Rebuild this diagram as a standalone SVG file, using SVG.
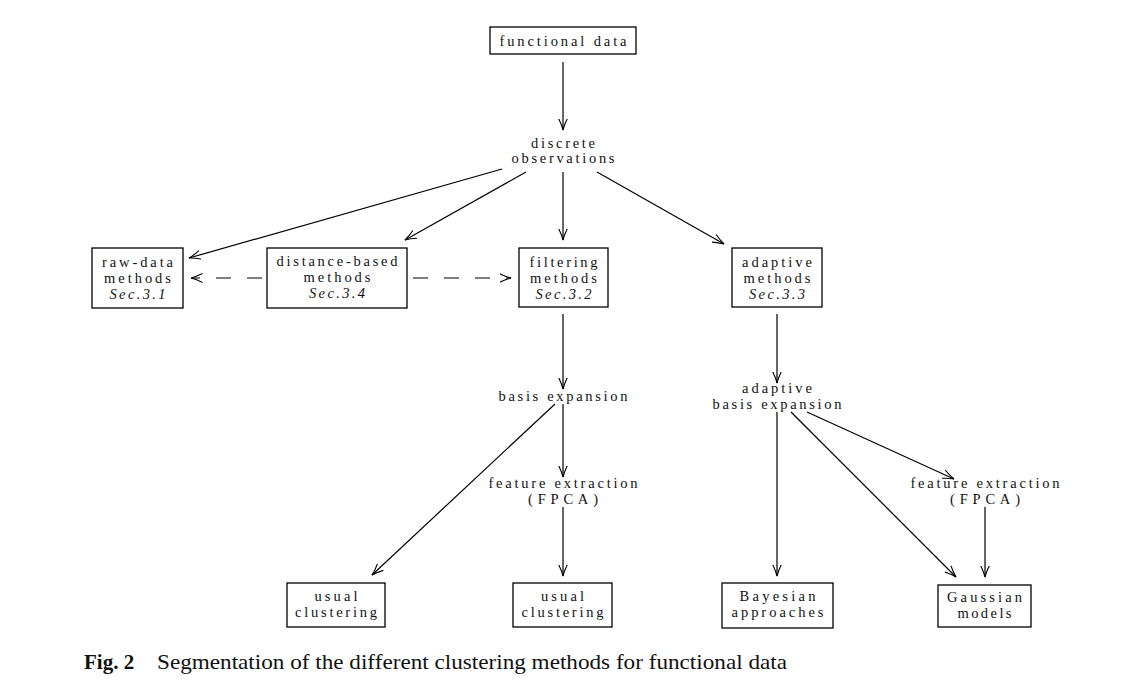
<svg xmlns="http://www.w3.org/2000/svg" width="1146" height="687" viewBox="0 0 1146 687">
<style>
.box{fill:#fff;stroke:#000;stroke-width:1.3}
.t{font-family:"Liberation Serif","Times New Roman",serif;font-size:14.5px;text-anchor:middle;fill:#111}
.i{font-style:italic}
.e{fill:none;stroke:#000;stroke-width:1.2}
.d{stroke-dasharray:15,16}
.cap{font-family:"Liberation Serif","Times New Roman",serif;font-size:21px;fill:#111}
</style>
<defs>
<marker id="ah" viewBox="0 0 12 10" refX="11.5" refY="5" markerWidth="12" markerHeight="10" orient="auto" markerUnits="userSpaceOnUse">
<path d="M0,0.6 Q6,3.6 11.5,5 Q6,6.4 0,9.4" fill="none" stroke="#000" stroke-width="1.1"/>
</marker>
</defs>
<rect width="1146" height="687" fill="#fff"/>

<g id="connectors">
<line class="e" x1="563" y1="62" x2="563" y2="130" marker-end="url(#ah)"/>
<line class="e" x1="502" y1="169" x2="189" y2="258" marker-end="url(#ah)"/>
<line class="e" x1="526" y1="172" x2="405" y2="240" marker-end="url(#ah)"/>
<line class="e" x1="563" y1="172" x2="563" y2="240" marker-end="url(#ah)"/>
<line class="e" x1="597" y1="172" x2="724" y2="244" marker-end="url(#ah)"/>
<line class="e d" x1="262" y1="278" x2="191" y2="278" marker-end="url(#ah)"/>
<line class="e d" x1="413" y1="278" x2="511" y2="278" marker-end="url(#ah)"/>
<line class="e" x1="563" y1="314" x2="563" y2="389" marker-end="url(#ah)"/>
<line class="e" x1="563" y1="404" x2="563" y2="477" marker-end="url(#ah)"/>
<line class="e" x1="563" y1="507" x2="563" y2="576" marker-end="url(#ah)"/>
<line class="e" x1="555" y1="404" x2="372" y2="575" marker-end="url(#ah)"/>
<line class="e" x1="777" y1="314" x2="777" y2="383" marker-end="url(#ah)"/>
<line class="e" x1="777" y1="412" x2="777" y2="576" marker-end="url(#ah)"/>
<line class="e" x1="791" y1="412" x2="956" y2="577" marker-end="url(#ah)"/>
<line class="e" x1="807" y1="412" x2="954" y2="479" marker-end="url(#ah)"/>
<line class="e" x1="985" y1="507" x2="985" y2="577" marker-end="url(#ah)"/>
</g>

<g id="functional-data">
<rect class="box" x="490" y="27" width="146" height="27"/>
<text class="t" x="563" y="46" textLength="127" lengthAdjust="spacing">functional data</text>
</g>

<g id="discrete-observations">
<text class="t" x="563" y="148" textLength="64" lengthAdjust="spacing">discrete</text>
<text class="t" x="563" y="163" textLength="103" lengthAdjust="spacing">observations</text>
</g>

<g id="raw-data">
<rect class="box" x="92" y="248" width="91" height="60"/>
<text class="t" x="137.5" y="267" textLength="71" lengthAdjust="spacing">raw-data</text>
<text class="t" x="137.5" y="283" textLength="67" lengthAdjust="spacing">methods</text>
<text class="t i" x="137.5" y="299" textLength="56" lengthAdjust="spacing">Sec.3.1</text>
</g>

<g id="distance-based">
<rect class="box" x="267" y="248" width="140" height="60"/>
<text class="t" x="337" y="266" textLength="121" lengthAdjust="spacing">distance-based</text>
<text class="t" x="337" y="282" textLength="67" lengthAdjust="spacing">methods</text>
<text class="t i" x="337" y="298" textLength="56" lengthAdjust="spacing">Sec.3.4</text>
</g>

<g id="filtering">
<rect class="box" x="519" y="248" width="89" height="59"/>
<text class="t" x="563.5" y="267" textLength="68" lengthAdjust="spacing">filtering</text>
<text class="t" x="563.5" y="283" textLength="67" lengthAdjust="spacing">methods</text>
<text class="t i" x="563.5" y="299" textLength="56" lengthAdjust="spacing">Sec.3.2</text>
</g>

<g id="adaptive">
<rect class="box" x="732" y="248" width="90" height="59"/>
<text class="t" x="777" y="267" textLength="70" lengthAdjust="spacing">adaptive</text>
<text class="t" x="777" y="283" textLength="67" lengthAdjust="spacing">methods</text>
<text class="t i" x="777" y="299" textLength="56" lengthAdjust="spacing">Sec.3.3</text>
</g>

<g id="basis-expansion">
<text class="t" x="563" y="401" textLength="129" lengthAdjust="spacing">basis expansion</text>
</g>

<g id="feature-extraction-1">
<text class="t" x="563" y="488" textLength="149" lengthAdjust="spacing">feature extraction</text>
<text class="t" x="563" y="504" textLength="70" lengthAdjust="spacing">(FPCA)</text>
</g>

<g id="adaptive-basis-expansion">
<text class="t" x="777" y="393" textLength="70" lengthAdjust="spacing">adaptive</text>
<text class="t" x="777" y="409" textLength="129" lengthAdjust="spacing">basis expansion</text>
</g>

<g id="feature-extraction-2">
<text class="t" x="985" y="488" textLength="149" lengthAdjust="spacing">feature extraction</text>
<text class="t" x="985" y="504" textLength="70" lengthAdjust="spacing">(FPCA)</text>
</g>

<g id="usual-clustering-1">
<rect class="box" x="287" y="583" width="98" height="44"/>
<text class="t" x="336" y="601" textLength="43" lengthAdjust="spacing">usual</text>
<text class="t" x="336" y="617" textLength="82" lengthAdjust="spacing">clustering</text>
</g>

<g id="usual-clustering-2">
<rect class="box" x="513" y="583" width="99" height="44"/>
<text class="t" x="562.5" y="601" textLength="43" lengthAdjust="spacing">usual</text>
<text class="t" x="562.5" y="617" textLength="82" lengthAdjust="spacing">clustering</text>
</g>

<g id="bayesian">
<rect class="box" x="722" y="583" width="111" height="45"/>
<text class="t" x="777.5" y="601" textLength="76" lengthAdjust="spacing">Bayesian</text>
<text class="t" x="777.5" y="617" textLength="92" lengthAdjust="spacing">approaches</text>
</g>

<g id="gaussian">
<rect class="box" x="938" y="585" width="93" height="42"/>
<text class="t" x="984.5" y="602" textLength="75" lengthAdjust="spacing">Gaussian</text>
<text class="t" x="984.5" y="618" textLength="54" lengthAdjust="spacing">models</text>
</g>

<g id="caption">
<text class="cap" x="84" y="669"><tspan font-weight="bold">Fig. 2</tspan></text>
<text class="cap" x="157" y="669" textLength="630" lengthAdjust="spacingAndGlyphs">Segmentation of the different clustering methods for functional data</text>
</g>
</svg>
